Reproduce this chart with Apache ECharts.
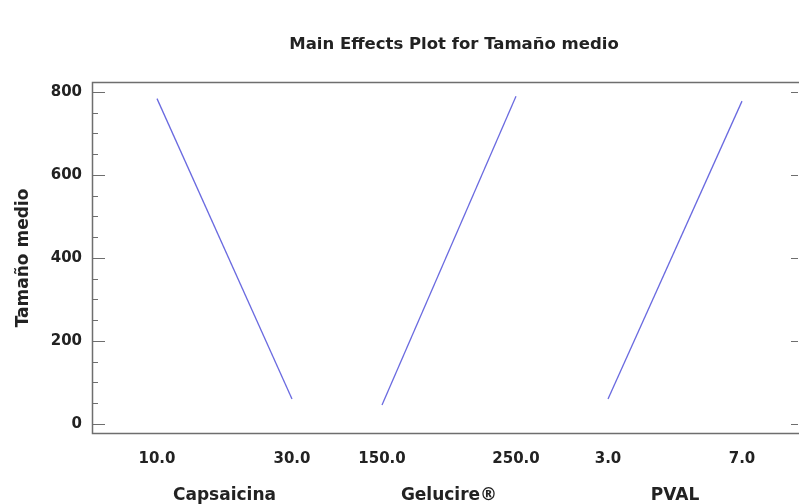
<!DOCTYPE html>
<html>
<head>
<meta charset="utf-8">
<script src="https://cdn.jsdelivr.net/npm/echarts@6/dist/echarts.min.js"></script>
<style>
  html, body { margin: 0; padding: 0; background: #ffffff; }
  #chart { width: 799px; height: 504px; }
</style>
</head>
<body>
<div id="chart"></div>
<script>
// Factor names and their low/high levels
const factors = ['Capsaicina', 'Gelucire®', 'PVAL'];
const capsaicinaLevels = [10, 30];
const gelucireLevels = [150, 250];
const pvalLevels = [3, 7];

// Mean response (Tamaño medio) at the low and high level of each factor
const capsaicinaMeans = [784, 60];
const gelucireMeans = [46, 790];
const pvalMeans = [60, 778];

// Response axis ticks
const yTicks = [0, 200, 400, 600, 800];

const FONT = 'DejaVu Sans';
const LINE = '#6a6ae0';
const FRAME = '#6e6e6e';

const levels = [capsaicinaLevels, gelucireLevels, pvalLevels];
const means = [capsaicinaMeans, gelucireMeans, pvalMeans];

// Horizontal placement of each factor panel (left edge, width)
const panels = [
  { left: 157, width: 135 },
  { left: 382, width: 134 },
  { left: 608, width: 134 }
];
const PLOT_TOP = 92, PLOT_H = 332;

const grids = [{ left: 92, top: PLOT_TOP, width: 706, height: PLOT_H, outerBoundsMode: 'none' }];
panels.forEach(p => grids.push({
  left: p.left, top: PLOT_TOP, width: p.width, height: PLOT_H, outerBoundsMode: 'none'
}));

const xAxes = [{ gridIndex: 0, type: 'value', show: false, min: 0, max: 1 }];
const yAxes = [
  {
    gridIndex: 0, type: 'value', min: 0, max: 800, interval: 200,
    name: 'Tamaño medio', nameLocation: 'middle', nameGap: 60,
    nameTextStyle: { fontFamily: FONT, fontWeight: 'bold', fontSize: 17, color: '#222' },
    axisLine: { show: false },
    axisTick: { show: true, inside: true, length: 13, lineStyle: { color: FRAME, width: 1 } },
    minorTick: { show: true, splitNumber: 4, length: 6, lineStyle: { color: FRAME, width: 1 } },
    axisLabel: { margin: 10, fontFamily: FONT, fontWeight: 'bold', fontSize: 15, color: '#222',
      customValues: yTicks },
    splitLine: { show: false }
  },
  {
    gridIndex: 0, type: 'value', position: 'right', min: 0, max: 800, interval: 200,
    axisLine: { show: false },
    axisTick: { show: true, inside: true, length: 7, lineStyle: { color: FRAME, width: 1 } },
    axisLabel: { show: false },
    splitLine: { show: false }
  }
];

const series = [];
factors.forEach((name, i) => {
  const lv = levels[i];
  xAxes.push({
    gridIndex: i + 1, type: 'value', min: lv[0], max: lv[1],
    name: name, nameLocation: 'middle', nameGap: 63,
    nameTextStyle: { fontFamily: FONT, fontWeight: 'bold', fontSize: 17, color: '#222' },
    axisLine: { show: false },
    axisTick: { show: false },
    splitLine: { show: false },
    axisLabel: {
      margin: 28, fontFamily: FONT, fontWeight: 'bold', fontSize: 15, color: '#222',
      customValues: lv,
      formatter: v => v.toFixed(1)
    }
  });
  yAxes.push({ gridIndex: i + 1, type: 'value', min: 0, max: 800, show: false });
  series.push({
    type: 'line',
    name: name,
    xAxisIndex: i + 1,
    yAxisIndex: i + 2,
    data: lv.map((x, k) => [x, means[i][k]]),
    showSymbol: false,
    silent: true,
    lineStyle: { color: LINE, width: 1.3 }
  });
});

const chart = echarts.init(document.getElementById('chart'), null, { renderer: 'canvas' });
chart.setOption({
  backgroundColor: '#ffffff',
  animation: false,
  title: {
    text: 'Main Effects Plot for Tamaño medio',
    left: 449, top: 31, textAlign: 'center',
    textStyle: { fontFamily: FONT, fontWeight: 'bold', fontSize: 16.5, color: '#222' }
  },
  grid: grids,
  xAxis: xAxes,
  yAxis: yAxes,
  series: series,
  graphic: [{
    type: 'rect',
    shape: { x: 92.5, y: 82.5, width: 720, height: 351 },
    style: { fill: 'none', stroke: FRAME, lineWidth: 1.5 },
    z: 10
  }]
});
</script>
</body>
</html>
